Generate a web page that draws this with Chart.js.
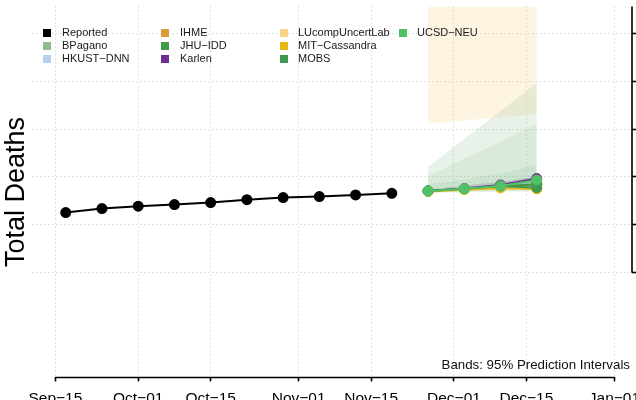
<!DOCTYPE html>
<html><head><meta charset="utf-8">
<script src="https://cdn.jsdelivr.net/npm/chart.js@4/dist/chart.umd.min.js"></script>
<style>
html,body{margin:0;padding:0;overflow:hidden;background:#fff;width:636px;height:400px}
#wrap{position:relative;width:660px;height:416px}
canvas{position:absolute;left:0;top:0}
.lg{position:absolute;font:11px "Liberation Sans",Arial,sans-serif;color:#1a1a1a;white-space:nowrap;line-height:13px}
.sw{position:absolute;width:8px;height:8px}
#note{position:absolute;right:30px;top:357px;font:13.3px "Liberation Sans",Arial,sans-serif;color:#111;line-height:15px;white-space:nowrap}
</style>
</head><body>
<div id="wrap"><canvas id="c" width="660" height="416"></canvas><div id="legend"></div><div id="note">Bands: 95% Prediction Intervals</div></div>
<script>
// ---- data ----
const reportedDates = ['2022-09-17','2022-09-24','2022-10-01','2022-10-08','2022-10-15','2022-10-22','2022-10-29','2022-11-05','2022-11-12','2022-11-19'];
const reportedDeaths = [5256,5340,5390,5423,5465,5527,5569,5590,5625,5660];
const forecastDates = ['2022-11-26','2022-12-03','2022-12-10','2022-12-17'];

const tickDates = ['2022-09-15','2022-10-01','2022-10-15','2022-11-01','2022-11-15','2022-12-01','2022-12-15','2023-01-01'];
const tickLabels = ['Sep\u221215','Oct\u221201','Oct\u221215','Nov\u221201','Nov\u221215','Dec\u221201','Dec\u221215','Jan\u221201'];
const yTicks = [4000,5000,6000,7000,8000,9000];

const modelNames = ['BPagano','HKUST\u2212DNN','IHME','JHU\u2212IDD','Karlen','LUcompUncertLab','MIT\u2212Cassandra','MOBS','UCSD\u2212NEU'];
const modelColors = ['#8fbc8f','#b9cff2','#dc9b34','#3f9a4b','#6a2f8f','#f6d28a','#e8b812','#3e9a4e','#52c068'];
const bandAlphas = [0.2,0.15,0.12,0.1,0.2,0.25,0.12,0.1,0.12];

const medBPagano = [5708,5756,5810,5860];
const loBPagano  = [5667,5680,5690,5700];
const hiBPagano  = [6208,6800,7380,7965];
const medHKUST = [5708,5757,5810,5858];
const loHKUST  = [5690,5720,5750,5770];
const hiHKUST  = [5730,5800,5870,5940];
const medIHME = [5708,5756,5805,5845];
const loIHME  = [5695,5735,5765,5790];
const hiIHME  = [5720,5780,5850,5920];
const medJHU = [5708,5752,5806,5850];
const loJHU  = [5685,5710,5730,5740];
const hiJHU  = [5850,5950,6080,6250];
const medKarlen = [5708,5760,5833,5969];
const loKarlen  = [5690,5730,5770,5800];
const hiKarlen  = [5740,5820,5900,6010];
const medLUcomp = [10000,10500,11000,11500];
const loLUcomp  = [7110,7180,7250,7319];
const hiLUcomp  = [11000,12000,13000,14000];
const medMIT = [5698,5735,5771,5750];
const loMIT  = [5680,5705,5720,5730];
const hiMIT  = [5730,5790,5840,5890];
const medMOBS = [5708,5756,5813,5777];
const loMOBS  = [5680,5700,5710,5720];
const hiMOBS  = [6021,6380,6740,7104];
const medUCSD = [5708,5756,5813,5938];
const loUCSD  = [5690,5730,5770,5810];
const hiUCSD  = [5730,5790,5860,5970];

const medians = [medBPagano,medHKUST,medIHME,medJHU,medKarlen,medLUcomp,medMIT,medMOBS,medUCSD];
const lowers  = [loBPagano,loHKUST,loIHME,loJHU,loKarlen,loLUcomp,loMIT,loMOBS,loUCSD];
const uppers  = [hiBPagano,hiHKUST,hiIHME,hiJHU,hiKarlen,hiLUcomp,hiMIT,hiMOBS,hiUCSD];

// ---- helpers ----
const DAY0 = Date.UTC(2022,8,15);
function toDay(s){const p=s.split('-').map(Number);return (Date.UTC(p[0],p[1]-1,p[2])-DAY0)/864e5;}
function pts(dates,vals){return dates.map((d,i)=>({x:toDay(d),y:vals[i]}));}
function rgba(hex,a){const n=parseInt(hex.slice(1),16);return `rgba(${n>>16&255},${n>>8&255},${n&255},${a})`;}

// ---- legend (R style, column-major) ----
const legendNames = ['Reported'].concat(modelNames);
const legendColors = ['#000000'].concat(modelColors);
const legCols = [[43,62],[161,180],[280,298],[399,417]];
const legRows = [32.5,45.5,58.5];
const lg = document.getElementById('legend');
legendNames.forEach((n,i)=>{
  const c = Math.floor(i/3), r = i%3;
  const sw = document.createElement('div'); sw.className='sw';
  sw.style.left=legCols[c][0]+'px'; sw.style.top=(legRows[r]-4)+'px'; sw.style.background=legendColors[i];
  const t = document.createElement('div'); t.className='lg';
  t.style.left=legCols[c][1]+'px'; t.style.top=(legRows[r]-6.5)+'px'; t.textContent=n;
  lg.appendChild(sw); lg.appendChild(t);
});

// ---- datasets ----
const datasets = [];
modelNames.forEach((n,i)=>{
  datasets.push({label:n+' lo',data:pts(forecastDates,lowers[i]),borderColor:'rgba(0,0,0,0)',borderWidth:0,pointRadius:0,fill:false,order:100});
  datasets.push({label:n+' hi',data:pts(forecastDates,uppers[i]),borderColor:'rgba(0,0,0,0)',borderWidth:0,pointRadius:0,fill:'-1',backgroundColor:rgba(modelColors[i],bandAlphas[i]),order:100});
});
modelNames.forEach((n,i)=>{
  datasets.push({label:n,data:pts(forecastDates,medians[i]),borderColor:modelColors[i],backgroundColor:modelColors[i],
    pointBackgroundColor:modelColors[i],pointBorderColor:modelColors[i],pointRadius:5,pointBorderWidth:1,borderWidth:2,fill:false,tension:0,order:20-i});
});
datasets.push({label:'Reported',data:pts(reportedDates,reportedDeaths),borderColor:'#000',backgroundColor:'#000',
  pointBackgroundColor:'#000',pointBorderColor:'#000',pointRadius:4.5,borderWidth:2,fill:false,tension:0,order:0});

const tickDays = tickDates.map(toDay);

const axisLines = {
  id:'axisLines',
  afterDatasetsDraw(chart){
    const {ctx,chartArea,scales}=chart;
    ctx.save();
    ctx.strokeStyle='#000'; ctx.lineWidth=1.6; ctx.setLineDash([]);
    ctx.beginPath();
    const y0=Math.round(chartArea.bottom)+0.5;
    ctx.moveTo(scales.x.getPixelForValue(tickDays[0]),y0);
    ctx.lineTo(scales.x.getPixelForValue(tickDays[tickDays.length-1]),y0);
    const xr=chartArea.right;
    ctx.moveTo(xr,chartArea.top);
    ctx.lineTo(xr,scales.y.getPixelForValue(yTicks[0]));
    ctx.stroke();
    ctx.restore();
  }
};

Chart.defaults.font.family='"Liberation Sans", Arial, sans-serif';
Chart.defaults.color='#000';

new Chart(document.getElementById('c'),{
  type:'line',
  data:{datasets},
  options:{
    responsive:false,animation:false,devicePixelRatio:1,
    layout:{padding:{top:5,right:24,bottom:0,left:0}},
    plugins:{legend:{display:false},tooltip:{enabled:false},filler:{drawTime:'beforeDatasetsDraw'}},
    scales:{
      x:{type:'linear',position:'bottom',min:-4.44,max:111.4,
        afterBuildTicks:s=>{s.ticks=tickDays.map(v=>({value:v}));},
        ticks:{autoSkip:false,maxRotation:0,padding:8,font:{size:15.5},color:'#000',
          callback:(v)=>{const i=tickDays.indexOf(v);return i>=0?tickLabels[i]:'';}},
        grid:{color:'#c4c4c4',lineWidth:1,drawTicks:true,tickLength:4,tickColor:'#000',tickWidth:1.6,tickBorderDash:[],borderDash:[1,3]},
        border:{display:false,dash:[1,3]}},
      y:{type:'linear',position:'right',min:1812.5,max:9562.5,
        afterBuildTicks:s=>{s.ticks=yTicks.map(v=>({value:v}));},
        ticks:{display:false},
        grid:{color:'#c4c4c4',lineWidth:1,drawTicks:true,tickLength:4,tickColor:'#000',tickWidth:1.6,tickBorderDash:[],borderDash:[1,3]},
        border:{display:false,dash:[1,3]}},
      yL:{type:'linear',position:'left',display:true,
        ticks:{display:false},grid:{display:false,drawTicks:false},border:{display:false},
        title:{display:true,text:'Total Deaths',font:{size:27},color:'#000',padding:{top:0,bottom:0}}}
    }
  },
  plugins:[axisLines]
});
</script>
</body></html>
